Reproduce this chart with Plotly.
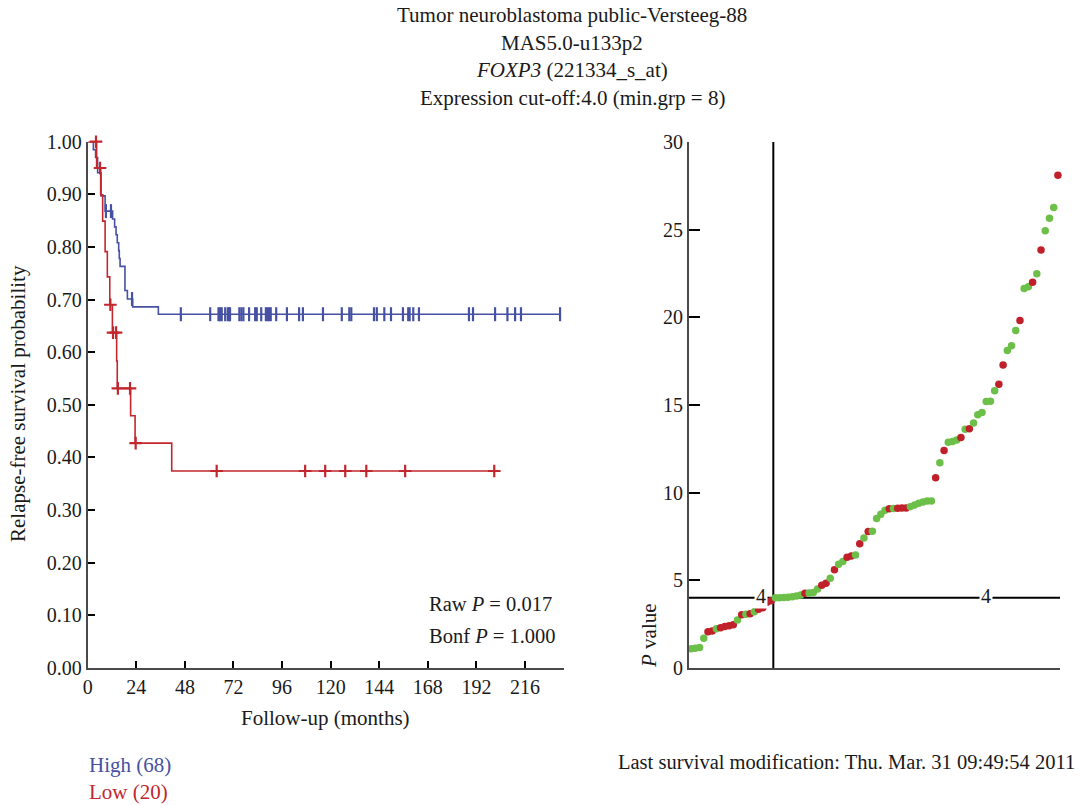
import plotly.graph_objects as go

W, H = 1082, 805
FONT = "Liberation Serif"
TXT = "#1a1a1a"
BLUE = "#4651a3"
RED = "#c1272d"
GREEN = "#6cc04a"
DOT_RED = "#c0202a"

# ---- Kaplan-Meier data (months, survival after each step) ----
high_event_months = [2.8, 3.9, 4.9, 6.6, 8.6, 12.3, 13.3, 14.0, 14.6, 15.3, 15.6,
                     16.0, 18.4, 19.6, 22.2, 34.9]
high_surv = [0.985, 0.970, 0.941, 0.897, 0.868, 0.853, 0.838, 0.823, 0.808, 0.793,
             0.778, 0.763, 0.717, 0.701, 0.686, 0.672]
high_censor_months = [9.0, 11.5, 21.9, 46.0, 60.5, 64.6, 65.4, 66.2, 67.9, 69.2, 69.8,
                      70.3, 74.9, 75.9, 76.9, 79.7, 82.7, 83.5, 85.7, 88.0, 88.8, 89.6,
                      90.4, 93.1, 98.4, 104.4, 106.3, 116.2, 125.5, 129.2, 130.2, 141.4,
                      142.8, 146.5, 149.8, 155.7, 158.3, 159.0, 160.8, 163.6, 188.3,
                      190.3, 201.2, 207.3, 211.1, 214.0, 233.3]
high_last_month = 233.3

low_event_months = [4.4, 6.4, 7.4, 8.6, 9.7, 10.9, 12.2, 14.3, 14.6, 21.2, 23.4, 41.5]
low_surv = [0.950, 0.899, 0.849, 0.791, 0.743, 0.690, 0.637, 0.583, 0.531, 0.479,
            0.427, 0.374]
low_censor_months = [4.1, 6.1, 11.2, 12.5, 14.0, 14.9, 20.9, 23.7, 63.7, 107.4, 117.3,
                     127.2, 137.6, 156.8, 200.8]
low_last_month = 201.3

month_ticks = [0, 24, 48, 72, 96, 120, 144, 168, 192, 216]

# ---- sorted expression values with event status (1 = event) ----
expr_values = [1.10, 1.12, 1.17, 1.69, 2.07, 2.11, 2.24, 2.30, 2.36, 2.41,
               2.47, 2.74, 3.03, 3.07, 3.10, 3.21, 3.35, 3.44, 3.75, 3.84,
               4.00, 4.01, 4.02, 4.04, 4.07, 4.11, 4.16, 4.26, 4.28, 4.31,
               4.50, 4.72, 4.83, 5.12, 5.61, 5.92, 6.07, 6.32, 6.39, 6.45,
               7.08, 7.42, 7.78, 7.80, 8.52, 8.77, 9.00, 9.08, 9.10, 9.11,
               9.12, 9.13, 9.20, 9.30, 9.40, 9.47, 9.52, 9.52, 10.85, 11.70,
               12.40, 12.88, 12.92, 13.00, 13.14, 13.62, 13.64, 13.98, 14.44, 14.57,
               15.20, 15.22, 15.81, 16.19, 17.28, 18.11, 18.38, 19.25, 19.82, 21.64,
               21.75, 22.00, 22.49, 23.84, 24.94, 25.65, 26.27, 28.10]
expr_event = [0, 0, 0, 0, 1, 1, 0, 1, 1, 1,
              1, 0, 1, 0, 1, 0, 1, 1, 1, 1,
              0, 0, 0, 0, 0, 0, 0, 1, 0, 0,
              0, 1, 1, 0, 1, 0, 0, 1, 1, 0,
              1, 0, 1, 0, 0, 0, 0, 1, 0, 1,
              1, 1, 0, 0, 0, 0, 0, 0, 1, 0,
              1, 0, 0, 0, 1, 0, 1, 0, 0, 0,
              0, 0, 0, 1, 1, 0, 0, 0, 1, 0,
              0, 1, 0, 1, 0, 0, 0, 1]
cutoff = 4.0
n_low = 20


def surv_at(t, months, surv):
    s = 1.0
    for m, v in zip(months, surv):
        if m <= t:
            s = v
    return s


def px_x(px):
    return px / W


def px_y(py):
    return 1 - py / H


fig = go.Figure()

for months, surv, last, color in [
    (high_event_months, high_surv, high_last_month, BLUE),
    (low_event_months, low_surv, low_last_month, RED),
]:
    xs = [0] + months + [last]
    ys = [1.0] + surv + [surv[-1]]
    fig.add_trace(go.Scatter(x=xs, y=ys, mode="lines", line=dict(color=color, width=1.6, shape="hv"),
                             xaxis="x", yaxis="y", hoverinfo="skip", cliponaxis=False))

fig.add_trace(go.Scatter(
    x=high_censor_months,
    y=[surv_at(t, high_event_months, high_surv) for t in high_censor_months],
    mode="markers", xaxis="x", yaxis="y", cliponaxis=False,
    marker=dict(symbol="line-ns-open", size=10, color=BLUE, line=dict(color=BLUE, width=2.2))))
fig.add_trace(go.Scatter(
    x=low_censor_months,
    y=[surv_at(t, low_event_months, low_surv) for t in low_censor_months],
    mode="markers", xaxis="x", yaxis="y", cliponaxis=False,
    marker=dict(symbol="cross-thin-open", size=9, color=RED, line=dict(color=RED, width=2.2))))

ranks = list(range(1, len(expr_values) + 1))
fig.add_trace(go.Scatter(
    x=ranks, y=expr_values, mode="markers", xaxis="x2", yaxis="y2", cliponaxis=False,
    marker=dict(size=7.5, color=[DOT_RED if e else GREEN for e in expr_event],
                line=dict(width=0))))

axis_common = dict(showgrid=False, zeroline=False, showline=True, linecolor="#4a4a4a",
                   linewidth=2, ticks="inside", tickcolor="black", tickwidth=2,
                   automargin=False,
                   tickfont=dict(family=FONT, size=20, color=TXT))

fig.update_layout(
    width=W, height=H, margin=dict(l=0, r=0, t=0, b=0, pad=0, autoexpand=False),
    paper_bgcolor="white", plot_bgcolor="white", showlegend=False,
    font=dict(family=FONT, size=21, color=TXT),
    xaxis=dict(domain=[px_x(87.7), px_x(563.5)], range=[0, 235], tickvals=month_ticks,
               ticklen=7, anchor="y", **axis_common),
    yaxis=dict(domain=[px_y(667.7), px_y(141.7)], range=[0, 1.0], dtick=0.1,
               tickformat=".2f", ticklen=7, anchor="x", **axis_common),
    xaxis2=dict(domain=[px_x(689), px_x(1060)], range=[0.5, 88.5], showticklabels=False,
                anchor="y2", **{**axis_common, "ticks": ""}),
    yaxis2=dict(domain=[px_y(668), px_y(142)], range=[0, 30], dtick=5, ticklen=11,
                anchor="x2", **axis_common),
)

# cut-off guide lines
fig.add_shape(type="line", xref="x2", yref="y2", x0=0.5, x1=88.5, y0=cutoff, y1=cutoff,
              line=dict(color="black", width=2), layer="below")
fig.add_shape(type="line", xref="x2", yref="y2", x0=n_low + 0.5, x1=n_low + 0.5, y0=0, y1=30,
              line=dict(color="black", width=2), layer="below")
for xr in [17.6, 70.9]:
    fig.add_annotation(x=xr, y=cutoff, xref="x2", yref="y2", text="4", showarrow=False,
                       bgcolor="white", font=dict(size=20, color=TXT), yshift=2)


def label(text, x, y, xanchor="center", color=TXT, angle=0, size=21):
    fig.add_annotation(x=px_x(x), y=px_y(y), xref="paper", yref="paper", text=text,
                       showarrow=False, xanchor=xanchor, yanchor="middle", textangle=angle,
                       font=dict(size=size, color=color))


title_lines = ["Tumor neuroblastoma public-Versteeg-88", "MAS5.0-u133p2",
               "<i>FOXP3</i> (221334_s_at)", "Expression cut-off:4.0 (min.grp = 8)"]
for i, line in enumerate(title_lines):
    label(line, 572, 15 + i * 27.5)

label("Relapse-free survival probability", 18, 404, angle=-90)
label("Follow-up (months)", 325, 718)
label("Raw <i>P</i> = 0.017", 427, 604, xanchor="left", size=20.5)
label("Bonf <i>P</i> = 1.000", 427, 636, xanchor="left", size=20.5)
label("<i>P</i> value", 649, 636, angle=-90)
label("High (68)", 87, 765, xanchor="left", color=BLUE)
label("Low (20)", 87, 792, xanchor="left", color=RED)
label("Last survival modification: Thu. Mar. 31 09:49:54 2011", 1077, 762,
      xanchor="right", size=20.5)

fig.write_html("out.html")
